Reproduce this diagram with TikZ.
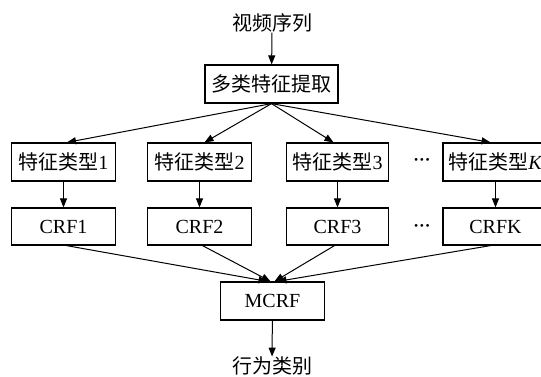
\documentclass[tikz,border=0pt]{standalone}
\usepackage{fontspec}
\setmainfont{Liberation Serif}
\newfontfamily\cjk{Noto Sans CJK SC}
\usetikzlibrary{arrows.meta}
\begin{document}
\begin{tikzpicture}[x=1pt,y=-1pt,
  txt/.style={font=\fontsize{20}{24}\selectfont, inner sep=0pt},
  box/.style={draw, line width=1.2pt, minimum width=104pt, minimum height=38pt, inner sep=0pt, font=\fontsize{20}{24}\selectfont},
  arr/.style={line width=1pt, -{Triangle[length=9pt,width=7pt]}},
  dotsty/.style={font=\fontsize{17}{20}\selectfont\bfseries, inner sep=0pt}]
\useasboundingbox (0,0) rectangle (541,376);
\node[txt] (src) at (272,23) {\cjk 视频序列};
\node[box, minimum width=133pt] (top) at (271.5,84) {\cjk 多类特征提取};
\node[box] (t1) at (63.5,162) {{\cjk 特征类型}1};
\node[box] (t2) at (199.5,162) {{\cjk 特征类型}2};
\node[box, minimum width=102pt] (t3) at (337.5,162) {{\cjk 特征类型}3};
\node[box, minimum width=105pt] (tK) at (495.5,162) {{\cjk 特征类型}\textit{K}};
\node[box, minimum height=37pt] (c1) at (63.5,226.5) {CRF1};
\node[box, minimum height=37pt] (c2) at (199.5,226.5) {CRF2};
\node[box, minimum height=37pt, minimum width=102pt] (c3) at (337.5,226.5) {CRF3};
\node[box, minimum height=37pt, minimum width=105pt] (cK) at (495.5,226.5) {CRFK};
\node[box] (m) at (272.5,301) {MCRF};
\node[txt] (out) at (272,366) {\cjk 行为类别};
\node[dotsty] (d1) at (422,162) {···};
\node[dotsty] (d2) at (422,228) {···};
\draw[arr] (src) -- (top);
\draw[arr] (top.south) -- ([xshift=3.5pt]t1.north);
\draw[arr] (top.south) -- ([xshift=5pt]t2.north);
\draw[arr] (top.south) -- ([xshift=-4pt]t3.north);
\draw[arr] (top.south) -- ([xshift=-5pt]tK.north);
\draw[arr] (t1) -- (c1);
\draw[arr] (t2) -- (c2);
\draw[arr] (t3) -- (c3);
\draw[arr] (tK) -- (cK);
\draw[arr] ([xshift=3pt]c1.south) -- ([xshift=-5pt]m.north);
\draw[arr] ([xshift=3pt]c2.south) -- ([xshift=-2pt]m.north);
\draw[arr] ([xshift=-3pt]c3.south) -- ([xshift=2pt]m.north);
\draw[arr] ([xshift=-5pt]cK.south) -- ([xshift=5pt]m.north);
\draw[arr] (m) -- (out);
\end{tikzpicture}
\end{document}
